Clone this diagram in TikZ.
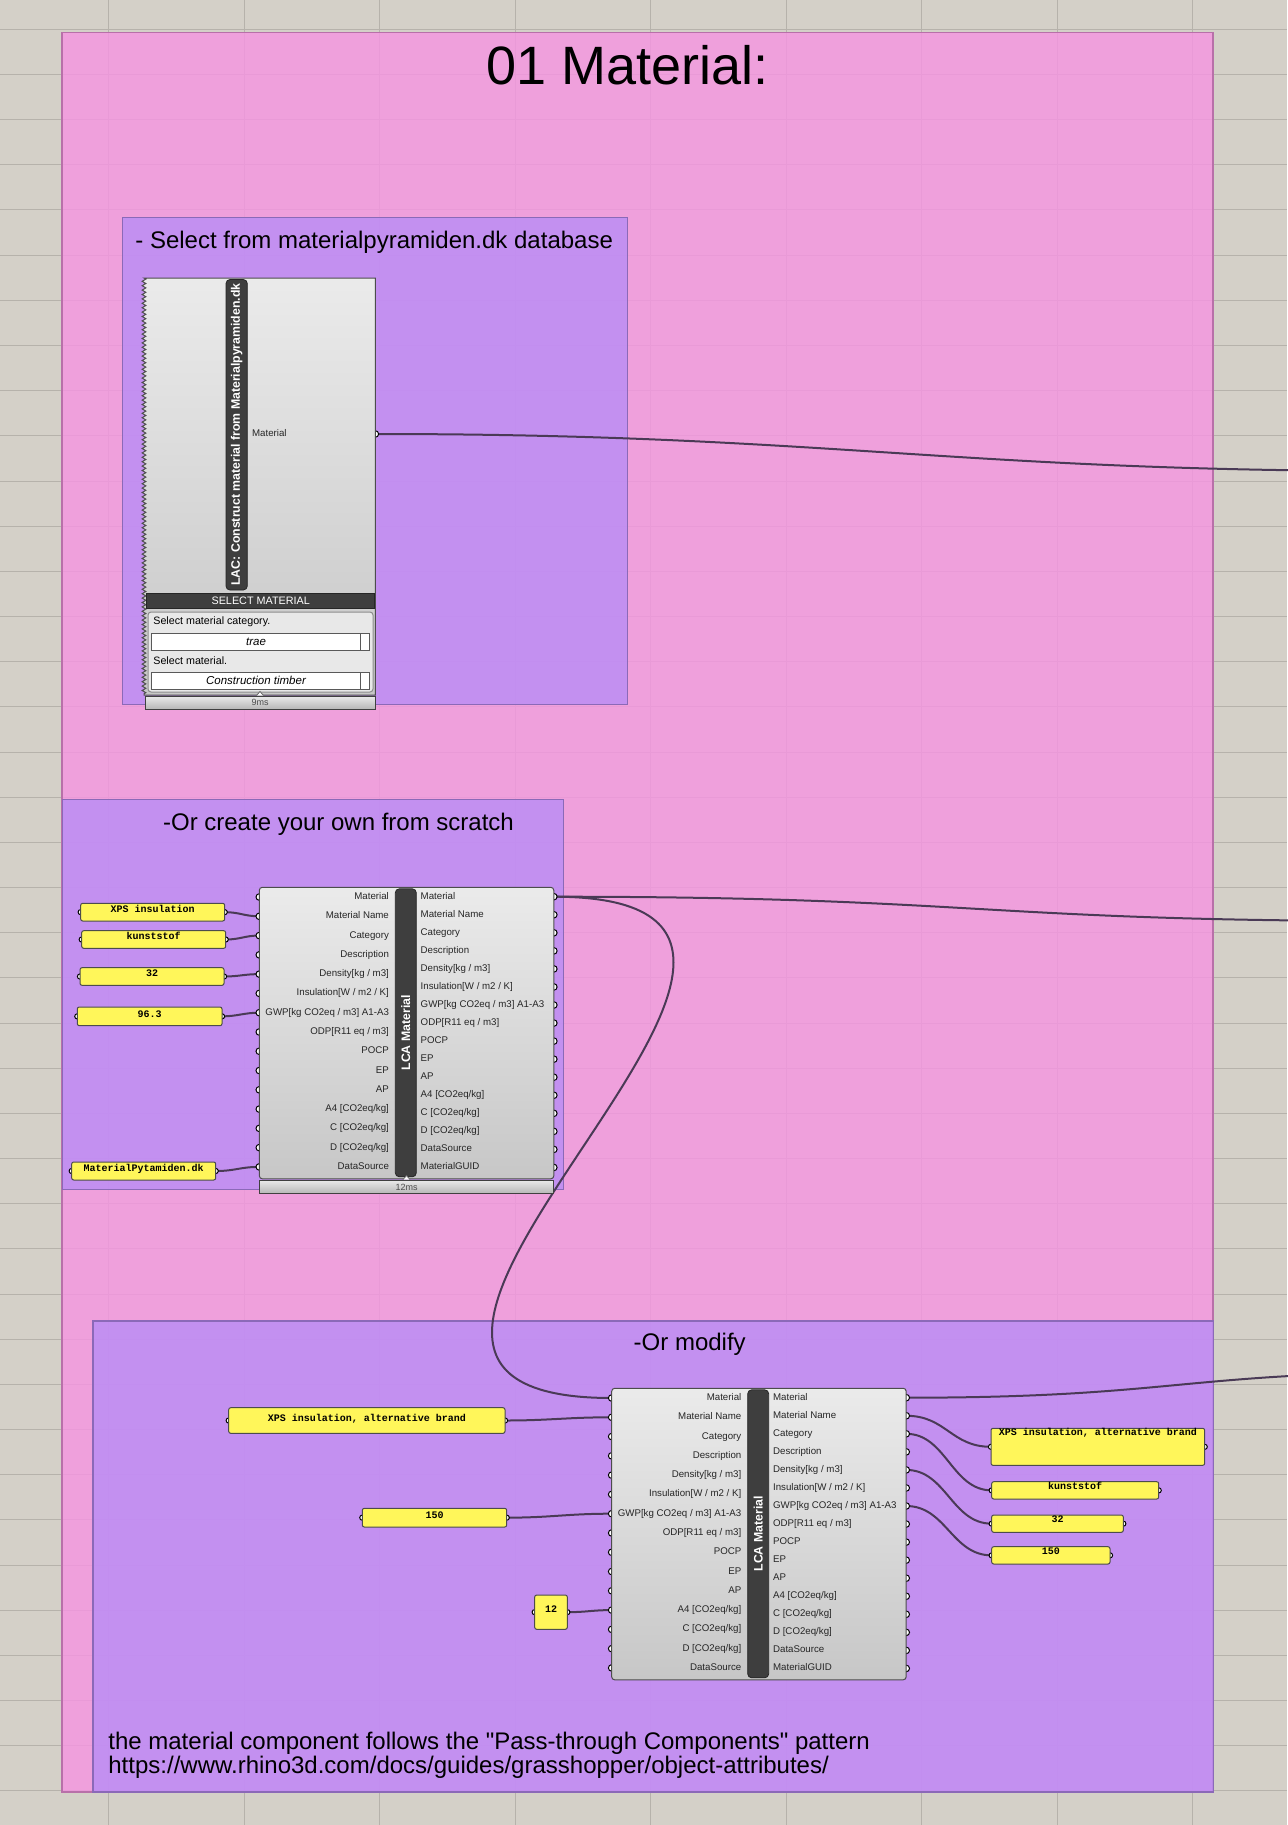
\documentclass[tikz,border=0pt]{standalone}
\usepackage{fontspec}
\setmainfont{Liberation Sans}
\newfontfamily\panelfont{Liberation Mono}
\usetikzlibrary{decorations.pathmorphing}
\pgfdeclarelayer{back}
\pgfdeclarelayer{wires}
\pgfsetlayers{back,wires,main}

\definecolor{canvasgrey}{RGB}{212,208,200}
\definecolor{gridgrey}{RGB}{182,178,171}
\definecolor{grouppink}{RGB}{246,149,226}
\definecolor{grouppurple}{RGB}{185,140,245}
\definecolor{panelyellow}{RGB}{255,246,90}
\definecolor{wiredark}{RGB}{74,58,86}
\definecolor{bardark}{RGB}{62,62,62}

\newcommand{\lcainputs}{Material,Material Name,Category,Description,Density[kg / m3],Insulation[W / m2 / K],GWP[kg CO2eq / m3] A1-A3,ODP[R11 eq / m3],POCP,EP,AP,A4 [CO2eq/kg],C [CO2eq/kg],D [CO2eq/kg],DataSource}
\newcommand{\lcaoutputs}{Material,Material Name,Category,Description,Density[kg / m3],Insulation[W / m2 / K],GWP[kg CO2eq / m3] A1-A3,ODP[R11 eq / m3],POCP,EP,AP,A4 [CO2eq/kg],C [CO2eq/kg],D [CO2eq/kg],DataSource,MaterialGUID}

% LCA Material component: name, left x, top y
\newcommand{\lcacomp}[3]{%
  \foreach \lab [count=\i] in \lcainputs {
    \coordinate (#1-in-\i) at (#2,{#3+9.7+19.28*(\i-1)});
    \draw[portdot] (#1-in-\i) circle (1.65pt);
  }
  \foreach \lab [count=\i] in \lcaoutputs {
    \coordinate (#1-out-\i) at ({#2+294.5},{#3+9.4+18.05*(\i-1)});
    \draw[portdot] (#1-out-\i) circle (1.65pt);
  }
  \draw[compbody] (#2,#3) rectangle ({#2+294.5},{#3+291.5});
  \draw[namebar] ({#2+136},{#3+1.5}) rectangle ({#2+157},{#3+289.5});
  \node[compname] (#1-name) at ({#2+146.5},{#3+145.5}) {LCA Material};
  \foreach \lab [count=\i] in \lcainputs
    \node[portlabel, anchor=east] (#1-inlab-\i) at ({#2+130},{#3+9.7+19.28*(\i-1)}) {\lab};
  \foreach \lab [count=\i] in \lcaoutputs
    \node[portlabel, anchor=west] (#1-outlab-\i) at ({#2+161},{#3+9.4+18.05*(\i-1)}) {\lab};
}

% yellow panel: name, x1, y1, x2, y2, text offset, text
\newcommand{\ghpanel}[7]{%
  \coordinate (#1-in) at (#2,{(#3+#5)/2});
  \coordinate (#1-out) at (#4,{(#3+#5)/2});
  \draw[portdot] (#1-in) circle (1.3pt);
  \draw[portdot] (#1-out) circle (1.3pt);
  \draw[panelbox] (#2,#3) rectangle (#4,#5);
  \node[paneltext] (#1) at ({(#2+#4)/2},{#3+#6}) {#7};
}

\begin{document}
\begin{tikzpicture}[x=0.5pt, y=-0.5pt,
    gridline/.style={draw=gridgrey, line width=0.5pt},
    groupbox/.style={fill opacity=0.8, line width=0.6pt},
    grouptitle/.style={font=\fontsize{12}{14}\selectfont, inner sep=0, anchor=base west},
    compbody/.style={draw=black!70, line width=0.5pt, rounded corners=1.5pt, top color=black!8, bottom color=black!22},
    namebar/.style={fill=bardark, draw=black!85, rounded corners=2pt, line width=0.4pt},
    portdot/.style={draw=black, fill=white, line width=0.5pt},
    portlabel/.style={font=\fontsize{4.85}{5}\selectfont, inner sep=0, text=black!85, text height=3.5pt, text depth=1pt},
    compname/.style={font=\bfseries\fontsize{6.15}{7}\selectfont, text=white, rotate=90, inner sep=0},
    panelbox/.style={fill=panelyellow, draw=black!70, line width=0.5pt, rounded corners=1pt},
    paneltext/.style={font=\panelfont\bfseries\fontsize{5}{6}\selectfont, inner sep=0, text height=3pt, text depth=0.8pt},
    menutext/.style={font=\fontsize{5.35}{6}\selectfont, inner sep=0, anchor=west},
    dropbox/.style={fill=white, draw=black!65, line width=0.5pt},
    droptext/.style={font=\itshape\fontsize{5.75}{6}\selectfont, inner sep=0},
    wire/.style={draw=wiredark, line width=1pt},
    timebar/.style={draw=black!75, line width=0.5pt, top color=black!8, bottom color=black!28},
    timetext/.style={font=\fontsize{4.5}{5}\selectfont, text=black!70, inner sep=0}]
\useasboundingbox (0,0) rectangle (1287,1825);

\begin{pgfonlayer}{back}
  \fill[canvasgrey] (0,0) rectangle (1287,1825);
  \foreach \i in {0,...,8}
    \draw[gridline] ({108.5+135.5*\i},0) -- ++(0,1825);
  \foreach \j in {0,...,39}
    \draw[gridline] (0,{29.3+45.17*\j}) -- ++(1287,0);
  % groups
  \draw[groupbox, fill=grouppink, draw=grouppink!75!black] (62,32.5) rectangle (1213,1792);
  \draw[groupbox, fill=grouppurple, draw=grouppurple!75!black] (122.3,217.3) rectangle (627.7,704.3);
  \draw[groupbox, fill=grouppurple, draw=grouppurple!75!black] (62.3,799.3) rectangle (563.3,1189.3);
  \draw[groupbox, fill=grouppurple, draw=grouppurple!75!black] (93,1321) rectangle (1213.5,1792);
\end{pgfonlayer}

\node[font=\fontsize{27}{30}\selectfont, inner sep=0, anchor=base] (title) at (628,84.5) {01 Material:};
\node[grouptitle] (selecttitle) at (135,248) {- Select from materialpyramiden.dk database};
\node[grouptitle] (scratchtitle) at (162.7,830) {-Or create your own from scratch};
\node[grouptitle] (modifytitle) at (633.3,1350.7) {-Or modify};
\node[grouptitle] (note1) at (108,1749) {the material component follows the \textquotedbl Pass-through Components\textquotedbl{} pattern};
\node[grouptitle] (note2) at (108,1773) {https://www.rhino3d.com/docs/guides/grasshopper/object-attributes/};

% materialpyramiden component
\coordinate (lac-out) at (375.3,434);
\draw[portdot] (lac-out) circle (1.65pt);
\draw[compbody, sharp corners] (375.3,695) -- (375.3,278) -- (144,278)
  decorate[decoration={zigzag, amplitude=0.9pt, segment length=2.2pt}] {-- (144,695)} -- cycle;
\draw[namebar] (226,279.5) rectangle (247.3,590);
\node[compname] (lacname) at (236.6,434.5) {LAC: Construct material from Materialpyramiden.dk};
\node[portlabel, anchor=west] (lacmat) at (251.7,434) {Material};
\draw[fill=bardark, draw=black!85, line width=0.5pt] (146.7,593) rectangle (374.7,608);
\node[font=\fontsize{5.4}{6}\selectfont, text=white, inner sep=0] (selbar) at (260.7,600.5) {SELECT MATERIAL};
\draw[fill=black!9, draw=black!45, line width=0.5pt, rounded corners=1.5pt] (148,612) rectangle (373,692);
\node[menutext] (catlabel) at (153,621.7) {Select material category.};
\draw[dropbox] (151.7,633) rectangle (369,650);
\draw[dropbox] (360,633) rectangle (369,650);
\node[droptext] (catvalue) at (256,641.5) {trae};
\node[menutext] (matlabel) at (153,660.7) {Select material.};
\draw[dropbox] (151.7,672) rectangle (369,689);
\draw[dropbox] (360,672) rectangle (369,689);
\node[droptext] (matvalue) at (256,680.5) {Construction timber};
\draw[timebar] (145,696) rectangle (375.3,709);
\node[timetext] (lacms) at (260,702.7) {9ms};
\draw[fill=white, draw=black!60, line width=0.4pt] (256.5,695.5) -- (260,691.5) -- (263.5,695.5);

% from scratch
\ghpanel{xpsA}{80.7}{903.3}{224.7}{921}{7.4}{XPS insulation}
\ghpanel{kunstA}{81.7}{930.7}{225.7}{948.3}{7}{kunststof}
\ghpanel{densA}{80}{967.7}{224}{985.3}{7}{32}
\ghpanel{gwpA}{77.3}{1007}{222}{1025.7}{8}{96.3}
\ghpanel{srcA}{71.7}{1162}{215.7}{1180}{7.3}{MaterialPytamiden.dk}
\lcacomp{lcaA}{259.3}{887.3}
\draw[timebar] (259.3,1180) rectangle (553.8,1193.3);
\node[timetext] (lcaAms) at (406.5,1187) {12ms};
\draw[fill=white, draw=black!60, line width=0.4pt] (403,1179.5) -- (406.5,1175.5) -- (410,1179.5);

% modify
\ghpanel{xpsB}{228.7}{1407.7}{505}{1433.3}{11.3}{XPS insulation, alternative brand}
\ghpanel{gwpB}{362.3}{1508.3}{506.7}{1527}{7.7}{150}
\ghpanel{aB}{534.7}{1595}{567.3}{1629.3}{15.7}{12}
\lcacomp{lcaB}{611.7}{1388.3}
\ghpanel{xpsC}{991}{1428.3}{1204.7}{1465.3}{5}{XPS insulation, alternative brand}
\ghpanel{kunstC}{991.7}{1481.7}{1158.7}{1499}{5.7}{kunststof}
\ghpanel{densC}{991.7}{1515}{1123.3}{1532.3}{5}{32}
\ghpanel{gwpC}{991.7}{1546.7}{1110}{1564}{5.3}{150}

\coordinate (lacend) at (1400,471);
\coordinate (lcaAend) at (1400,921);
\coordinate (lcaBend) at (1450,1372);

\begin{pgfonlayer}{wires}
  \draw[wire] (lac-out) .. controls +(450,0) and +(-450,0) .. (lacend);
  \draw[wire] (lcaA-out-1) .. controls +(420,0) and +(-420,0) .. (lcaAend);
  \draw[wire] (lcaA-out-1) .. controls +(390,0) and +(-390,0) .. (lcaB-in-1);
  \draw[wire] (xpsA-out) .. controls +(15,0) and +(-15,0) .. (lcaA-in-2);
  \draw[wire] (kunstA-out) .. controls +(15,0) and +(-15,0) .. (lcaA-in-3);
  \draw[wire] (densA-out) .. controls +(15,0) and +(-15,0) .. (lcaA-in-5);
  \draw[wire] (gwpA-out) .. controls +(15,0) and +(-15,0) .. (lcaA-in-7);
  \draw[wire] (srcA-out) .. controls +(20,0) and +(-20,0) .. (lcaA-in-15);
  \draw[wire] (xpsB-out) .. controls +(45,0) and +(-45,0) .. (lcaB-in-2);
  \draw[wire] (gwpB-out) .. controls +(45,0) and +(-45,0) .. (lcaB-in-7);
  \draw[wire] (aB-out) .. controls +(20,0) and +(-20,0) .. (lcaB-in-12);
  \draw[wire] (lcaB-out-1) .. controls +(270,0) and +(-270,0) .. (lcaBend);
  \draw[wire] (lcaB-out-2) .. controls +(40,0) and +(-40,0) .. (xpsC-in);
  \draw[wire] (lcaB-out-3) .. controls +(40,0) and +(-40,0) .. (kunstC-in);
  \draw[wire] (lcaB-out-5) .. controls +(40,0) and +(-40,0) .. (densC-in);
  \draw[wire] (lcaB-out-7) .. controls +(40,0) and +(-40,0) .. (gwpC-in);
\end{pgfonlayer}
\end{tikzpicture}
\end{document}
